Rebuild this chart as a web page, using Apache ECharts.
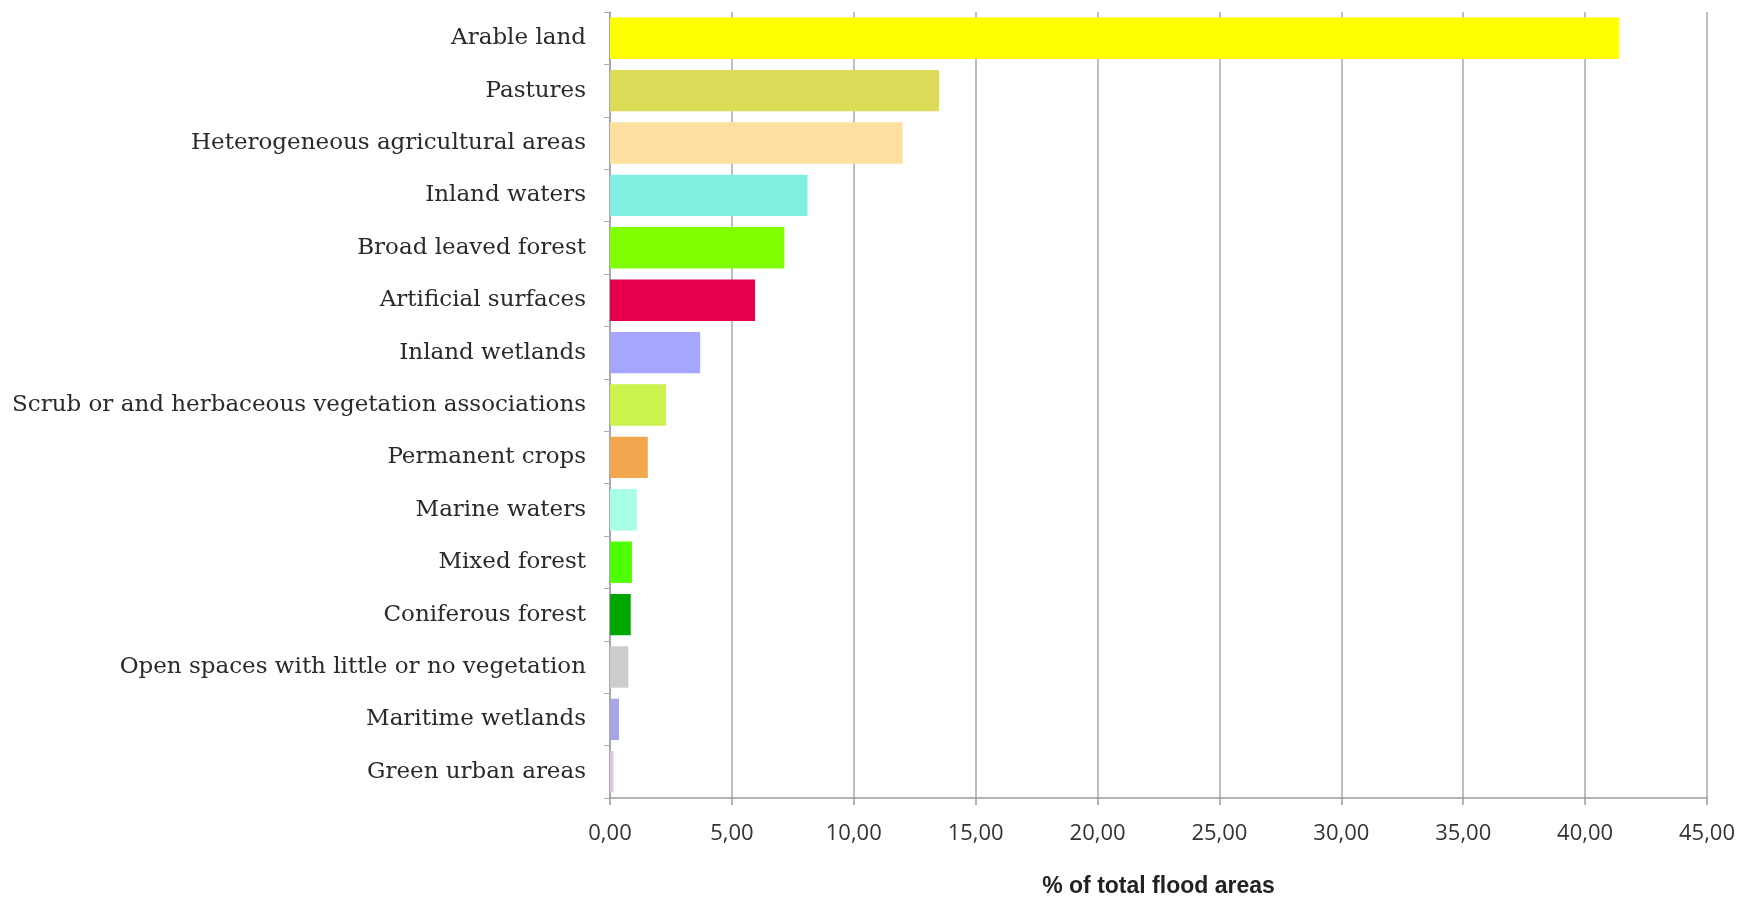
<!DOCTYPE html>
<html>
<head>
<meta charset="utf-8">
<style>
  html, body { margin: 0; padding: 0; background: #ffffff; }
  #chart { width: 1759px; height: 903px; }
</style>
<script src="https://cdn.jsdelivr.net/npm/echarts@6/dist/echarts.min.js"></script>
</head>
<body>
<div id="chart"></div>
<script>
// Land cover classes, listed top to bottom
const categories = [
  'Arable land',
  'Pastures',
  'Heterogeneous agricultural areas',
  'Inland waters',
  'Broad leaved forest',
  'Artificial surfaces',
  'Inland wetlands',
  'Scrub or and herbaceous vegetation associations',
  'Permanent crops',
  'Marine waters',
  'Mixed forest',
  'Coniferous forest',
  'Open spaces with little or no vegetation',
  'Maritime wetlands',
  'Green urban areas'
];

// Share of the total flooded area (%)
const shares = [41.4, 13.5, 12.0, 8.1, 7.15, 5.95, 3.7, 2.3, 1.55, 1.1, 0.9, 0.85, 0.75, 0.37, 0.14];

// Fill colour of each class
const classColors = [
  '#ffff00', '#dcdc58', '#fde0a0', '#80efe2', '#80ff00',
  '#e6004d', '#a6a6ff', '#ccf24d', '#f2a64d', '#a6ffe6',
  '#4dff00', '#00a600', '#cccccc', '#a6a6e6', '#dcc6dc'
];

const axisTitle = '% of total flood areas';
const xTicks = [0, 5, 10, 15, 20, 25, 30, 35, 40, 45];

const chart = echarts.init(document.getElementById('chart'), null, { renderer: 'canvas' });

chart.setOption({
  animation: false,
  backgroundColor: '#ffffff',
  grid: { left: 610, right: 52, top: 12, bottom: 90, containLabel: false },
  xAxis: {
    type: 'value',
    min: xTicks[0],
    max: xTicks[xTicks.length - 1],
    interval: 5,
    name: axisTitle,
    nameLocation: 'middle',
    nameGap: 77,
    nameTextStyle: { fontFamily: 'Liberation Sans', fontWeight: 'bold', fontSize: 23, color: '#222222' },
    axisLine: { show: true, lineStyle: { color: '#9a9a9a', width: 1.5 } },
    axisTick: { show: true, length: 7, lineStyle: { color: '#9a9a9a', width: 1.5 } },
    axisLabel: {
      margin: 25,
      fontFamily: 'Open Sans',
      fontSize: 22,
      color: '#333333',
      formatter: v => v.toFixed(2).replace('.', ',')
    },
    splitLine: { show: true, lineStyle: { color: '#a8a8a8', width: 1.5 } }
  },
  yAxis: {
    type: 'category',
    data: categories,
    inverse: true,
    axisLine: { show: true, lineStyle: { color: '#a0a0a0', width: 1.5 } },
    axisTick: { show: true, length: 6, alignWithLabel: false, lineStyle: { color: '#a8a8c8', width: 1 } },
    axisLabel: {
      margin: 24,
      fontFamily: 'DejaVu Serif',
      fontSize: 23,
      color: '#2a2a2a'
    },
    splitLine: { show: false }
  },
  series: [{
    type: 'bar',
    data: shares.map((v, i) => ({ value: v, itemStyle: { color: classColors[i] } })),
    barCategoryGap: '21%',
    silent: true
  }]
});
</script>
</body>
</html>
